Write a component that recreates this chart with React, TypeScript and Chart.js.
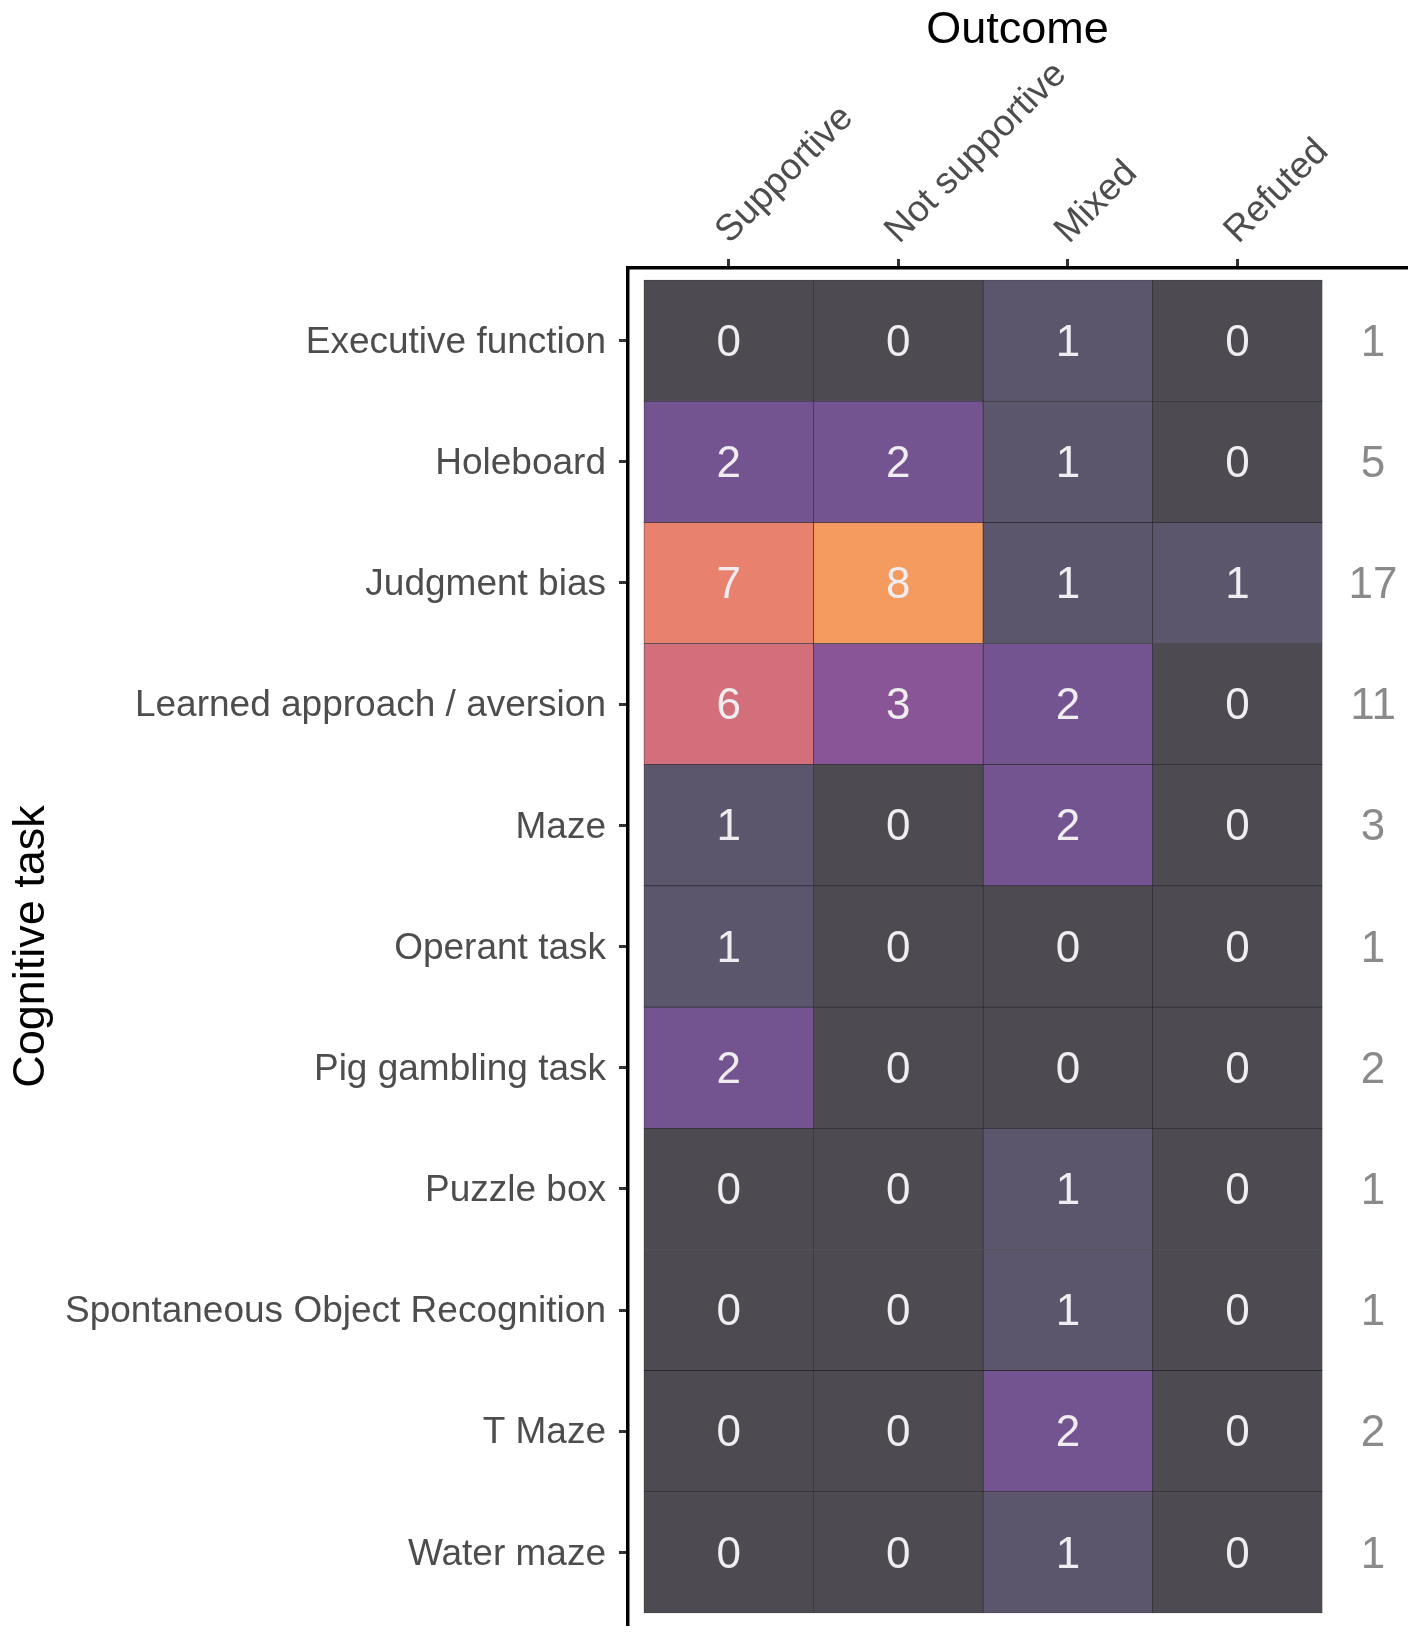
import React, { useEffect, useRef } from 'react';
import { Chart, registerables } from 'chart.js';

Chart.register(...registerables);

const tasks = [
  'Executive function',
  'Holeboard',
  'Judgment bias',
  'Learned approach / aversion',
  'Maze',
  'Operant task',
  'Pig gambling task',
  'Puzzle box',
  'Spontaneous Object Recognition',
  'T Maze',
  'Water maze',
];
const outcomes = ['Supportive', 'Not supportive', 'Mixed', 'Refuted'];

const supportive = [0, 2, 7, 6, 1, 1, 2, 0, 0, 0, 0];
const notSupportive = [0, 2, 8, 3, 0, 0, 0, 0, 0, 0, 0];
const mixed = [1, 1, 1, 2, 2, 0, 0, 1, 1, 2, 1];
const refuted = [0, 0, 1, 0, 0, 0, 0, 0, 0, 0, 0];

const columns = [supportive, notSupportive, mixed, refuted];
const totals = tasks.map((_, i) => columns.reduce((s, col) => s + col[i], 0));

const fillByCount: Record<number, string> = {
  0: '#4d4b51',
  1: '#5c566d',
  2: '#735490',
  3: '#8a5597',
  4: '#a25c95',
  5: '#bb6589',
  6: '#d36e7b',
  7: '#e8826f',
  8: '#f59b5f',
};

const FONT = '"Liberation Sans", Arial, Helvetica, sans-serif';
const TOTAL_X = 4.3;

const labelPlugin = {
  id: 'cellLabels',
  afterDatasetsDraw(chart: any) {
    const ctx = chart.ctx;
    ctx.save();
    ctx.textAlign = 'center';
    ctx.textBaseline = 'middle';
    ctx.font = `44px ${FONT}`;
    chart.data.datasets.forEach((_ds: any, di: number) => {
      const meta = chart.getDatasetMeta(di);
      meta.data.forEach((el: any, i: number) => {
        const p = el.getCenterPoint();
        ctx.fillStyle = '#efedef';
        ctx.fillText(String(columns[di][i]), p.x, p.y + 3);
      });
    });
    const xs = chart.scales.x;
    const ys = chart.scales.y;
    ctx.fillStyle = '#8a8a8a';
    totals.forEach((t, i) => {
      ctx.fillText(String(t), xs.getPixelForValue(TOTAL_X), ys.getPixelForValue(i) + 3);
    });
    ctx.restore();
  },
};

export default function App() {
  const ref = useRef<HTMLCanvasElement | null>(null);

  useEffect(() => {
    document.body.style.margin = '0';
    if (!ref.current) return;
    const chart = new Chart(ref.current, {
      type: 'bar',
      data: {
        datasets: columns.map((col, c) => ({
          label: outcomes[c],
          data: col.map((_, i) => ({ x: [c, c + 1], y: i })),
          backgroundColor: col.map((v) => fillByCount[v]),
          borderColor: 'rgba(30,28,35,0.9)',
          borderWidth: 0.7,
          borderSkipped: false,
          grouped: false,
          barPercentage: 1,
          categoryPercentage: 1,
        })) as any,
      },
      options: {
        responsive: false,
        animation: false,
        indexAxis: 'y',
        layout: { padding: { left: 0, top: 0, right: 10, bottom: 10 } },
        plugins: {
          legend: { display: false },
          tooltip: { enabled: false },
        },
        scales: {
          x: {
            type: 'linear',
            position: 'top',
            min: -0.094,
            max: 4.5,
            stacked: false,
            offset: false,
            afterBuildTicks: (s: any) => {
              s.ticks = outcomes.map((_, i) => ({ value: i + 0.5 }));
            },
            afterFit: (s: any) => {
              s.height = 268;
              s.paddingLeft = 0;
              s.paddingRight = 0;
            },
            ticks: {
              autoSkip: false,
              minRotation: 45,
              maxRotation: 45,
              padding: 6,
              labelOffset: 25,
              color: '#4d4d4d',
              font: { family: FONT, size: 37 },
              callback: (_v: any, idx: number) => outcomes[idx] ?? '',
            },
            grid: {
              display: true,
              offset: false,
              drawOnChartArea: false,
              drawTicks: true,
              tickLength: 9,
              tickColor: '#333333',
              tickWidth: 3,
            },
            border: { display: true, color: '#000000', width: 3.5 },
            title: {
              display: true,
              text: 'Outcome',
              color: '#000000',
              font: { family: FONT, size: 45 },
              padding: { top: 4, bottom: 0 },
            },
          },
          y: {
            type: 'linear',
            reverse: true,
            offset: false,
            min: -0.599,
            max: 10.599,
            afterBuildTicks: (s: any) => {
              s.ticks = tasks.map((_, i) => ({ value: i }));
            },
            afterFit: (s: any) => {
              s.width = 628;
              s.paddingTop = 0;
              s.paddingBottom = 0;
            },
            ticks: {
              autoSkip: false,
              padding: 13,
              labelOffset: 2,
              color: '#4d4d4d',
              font: { family: FONT, size: 37 },
              callback: (_v: any, idx: number) => tasks[idx] ?? '',
            },
            grid: {
              display: true,
              offset: false,
              drawOnChartArea: false,
              drawTicks: true,
              tickLength: 9,
              tickColor: '#333333',
              tickWidth: 3,
            },
            border: { display: true, color: '#000000', width: 3.5 },
            title: {
              display: true,
              text: 'Cognitive task',
              color: '#000000',
              font: { family: FONT, size: 45 },
              padding: { top: 5, bottom: 0 },
            },
          },
        },
      } as any,
      plugins: [labelPlugin],
    });
    return () => chart.destroy();
  }, []);

  return (
    <div style={{ width: 1417, height: 1635, background: '#ffffff' }}>
      <canvas ref={ref} width={1417} height={1635} style={{ display: 'block' }} />
    </div>
  );
}
